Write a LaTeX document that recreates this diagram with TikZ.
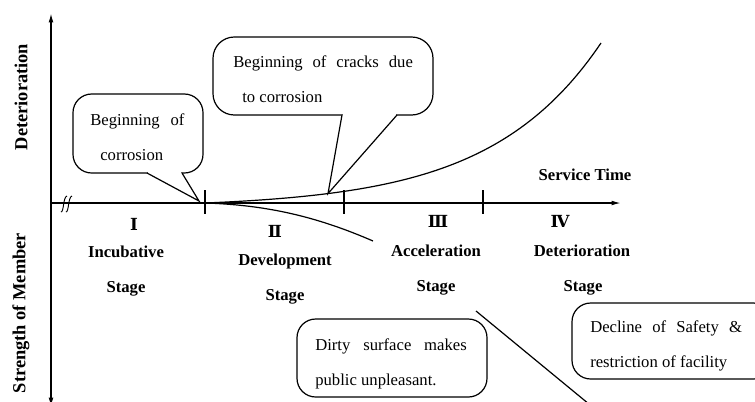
\documentclass[tikz,border=0pt]{standalone}
\usepackage{fontspec}
\setmainfont{Liberation Serif}
\newfontfamily\numfont{DejaVu Serif}
\usetikzlibrary{arrows.meta}

\begin{document}
\begin{tikzpicture}[x=0.75pt,y=-0.75pt,
  axis/.style={line width=1pt},
  curve/.style={line width=0.9pt},
  bubble/.style={line width=0.9pt, fill=white, rounded corners=14},
  pointer/.style={line width=0.9pt, line join=miter},
  txt/.style={inner sep=0pt, anchor=base west, font=\fontsize{12.5}{15}\selectfont},
  lbl/.style={inner sep=0pt, anchor=base, font=\fontsize{12.5}{15}\selectfont\bfseries},
  roman/.style={inner sep=0pt, anchor=base, font=\fontsize{12.5}{15}\selectfont\numfont\bfseries},
  ylbl/.style={inner sep=0pt, anchor=center, rotate=90, font=\fontsize{13.8}{16}\selectfont\bfseries},
  tick/.style={line width=1pt}]

\useasboundingbox (0,0) rectangle (755,401);
\clip (0,0) rectangle (755,401);

% axes
\coordinate (O) at (51,203);
\coordinate (xend) at (621,203);
\coordinate (ytop) at (51,13);
\coordinate (ybot) at (51,407);
\draw[axis, -{Latex[length=7pt,width=3.5pt]}] (O) -- (xend);
\draw[axis, {Latex[length=7pt,width=3.5pt]}-{Latex[length=7pt,width=3.5pt]}] (ybot) -- (ytop);

% axis break mark
\draw[line width=0.7pt] (61,212) .. controls (64,212) and (63,197) .. (67,196);
\draw[line width=0.7pt] (66,212) .. controls (69,212) and (68,197) .. (72,196);

% stage boundaries
\coordinate (t1) at (205,203);
\coordinate (t2) at (344,203);
\coordinate (t3) at (483,203);
\foreach \t in {t1,t2,t3} \draw[tick] ([yshift=-8]\t) -- ([yshift=10]\t);

% deterioration curve
\draw[curve] plot[domain=205:601, samples=90] (\x, {203 - 4.66*(exp(0.009*(\x-205))-1)});
\coordinate (crack) at (328, {203 - 4.66*(exp(0.009*123)-1)});

% strength curve
\coordinate (send) at (373,241);
\draw[curve] (t1) .. controls (270,205) and (320,218) .. (send);

% strength decline line
\coordinate (d1) at (476,311);
\coordinate (d2) at (612,423);
\draw[curve] (d1) -- (d2);

% callout: beginning of corrosion
\coordinate (onset) at (199,201);
\coordinate (p1l) at (147,173);
\coordinate (p1r) at (182,173);
\draw[bubble] (73,94) rectangle (203,173);
\fill[white] (p1l) -- (onset) -- (p1r) -- cycle;
\fill[white] ([xshift=0.8,yshift=-2]p1l) rectangle ([xshift=-0.8,yshift=2]p1r);
\draw[pointer] (p1l) -- (onset) -- (p1r);
\node[txt] (c1a) at (90,125) {Beginning\hspace{5pt} of};
\node[txt] (c1b) at (100,160) {corrosion};

% callout: beginning of cracks
\coordinate (p2l) at (342,115);
\coordinate (p2r) at (397,115);
\draw[bubble, rounded corners=16] (213,37) rectangle (433,115);
\fill[white] (p2l) -- (crack) -- (p2r) -- cycle;
\fill[white] ([xshift=0.8,yshift=-2]p2l) rectangle ([xshift=-0.8,yshift=2]p2r);
\draw[pointer] (p2l) -- (crack) -- (p2r);
\node[txt] (c2a) at (233,67) {Beginning\hspace{4.3pt} of\hspace{4.3pt} cracks\hspace{4.3pt} due};
\node[txt] (c2b) at (242,102) {to corrosion};

% note boxes
\draw[bubble] (297,319) rectangle (487,397);
\node[txt] (c3a) at (315,350) {Dirty\hspace{6.5pt} surface\hspace{6.5pt} makes};
\node[txt] (c3b) at (315,385) {public unpleasant.};

\draw[bubble] (572,303) rectangle (772,379);
\node[txt] (c4a) at (590,332) {Decline\hspace{4.5pt} of\hspace{4.5pt} Safety\hspace{4.5pt} \&};
\node[txt] (c4b) at (590,367) {restriction of facility};

% stage labels
\node[roman] (s1) at (134,230) {Ⅰ};
\node[lbl] (s1a) at (126,257) {Incubative};
\node[lbl] (s1b) at (126,292) {Stage};

\node[roman] (s2) at (275,237) {Ⅱ};
\node[lbl] (s2a) at (285,265) {Development};
\node[lbl] (s2b) at (285,300) {Stage};

\node[roman] (s3) at (438,227) {Ⅲ};
\node[lbl] (s3a) at (436,256) {Acceleration};
\node[lbl] (s3b) at (436,291) {Stage};

\node[roman] (s4) at (560,227) {Ⅳ};
\node[lbl] (s4a) at (582,256) {Deterioration};
\node[lbl] (s4b) at (583,291) {Stage};

\node[lbl] (st) at (585,180) {Service Time};

% axis titles
\node[ylbl] (yd) at (21,97) {Deterioration};
\node[ylbl] (ys) at (21,313) {Strength of Member};

\end{tikzpicture}
\end{document}
